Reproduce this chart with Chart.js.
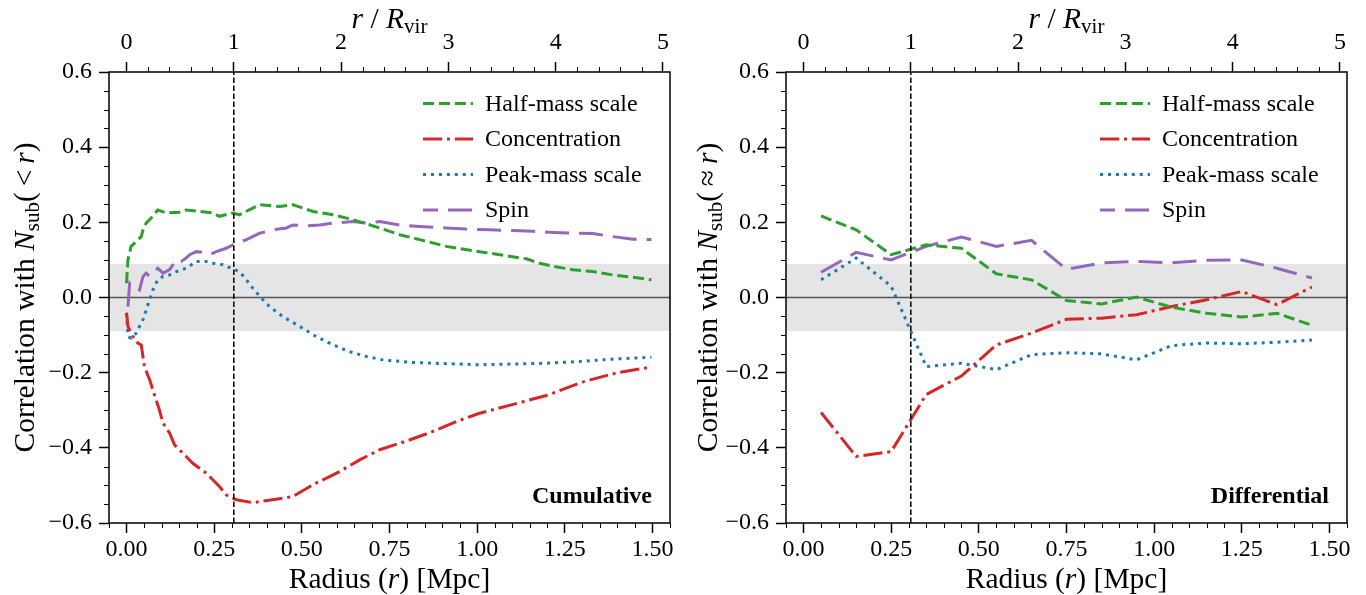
<!DOCTYPE html>
<html><head><meta charset="utf-8">
<script src="https://cdn.jsdelivr.net/npm/chart.js@4.4.1/dist/chart.umd.min.js"></script>
<style>
html,body{margin:0;padding:0;background:#fff;}
#wrap{position:relative;width:1366px;height:595px;overflow:hidden;background:#fff;}
canvas{position:absolute;top:0;}
</style></head><body>
<div id="wrap">
<canvas id="c1" width="683" height="595" style="left:0px"></canvas>
<canvas id="c2" width="683" height="595" style="left:683px"></canvas>
</div>
<script>
// ---------------- data ----------------
const RVIR = 0.306;           // Mpc (r / R_vir = 1)
const X_MIN = -0.05, X_MAX = 1.55;
const Y_MIN = -0.6, Y_MAX = 0.6;
const BAND = 0.089;
const X_TICKS = [0, 0.25, 0.5, 0.75, 1.0, 1.25, 1.5];
const X2_TICKS = [0, 1, 2, 3, 4, 5];
const Y_TICKS = [-0.6, -0.4, -0.2, 0, 0.2, 0.4, 0.6];
const LABELS = ['Half-mass scale', 'Concentration', 'Peak-mass scale', 'Spin'];

// Cumulative panel
const CUM_HALF_R = [0.0,0.004,0.013,0.028,0.042,0.047,0.056,0.075,0.089,0.113,0.151,0.170,0.208,0.246,0.265,0.303,0.322,0.360,0.380,0.437,0.474,0.532,0.589,0.646,0.722,0.779,0.836,0.912,1.007,1.083,1.140,1.178,1.216,1.273,1.330,1.387,1.445,1.497];
const CUM_HALF   = [0.038,0.10,0.136,0.149,0.162,0.18,0.198,0.216,0.233,0.225,0.227,0.233,0.229,0.225,0.216,0.225,0.22,0.238,0.247,0.242,0.247,0.229,0.22,0.207,0.185,0.167,0.154,0.136,0.122,0.111,0.103,0.091,0.083,0.074,0.069,0.06,0.054,0.047];

const CUM_CONC_R = [0.0,0.004,0.018,0.032,0.042,0.051,0.066,0.080,0.094,0.104,0.123,0.137,0.170,0.189,0.227,0.265,0.284,0.313,0.360,0.417,0.474,0.532,0.608,0.665,0.722,0.798,0.864,0.941,1.0,1.1,1.2,1.3,1.4,1.497];
const CUM_CONC   = [-0.04,-0.077,-0.104,-0.121,-0.126,-0.184,-0.219,-0.26,-0.30,-0.334,-0.361,-0.392,-0.423,-0.441,-0.467,-0.503,-0.525,-0.538,-0.546,-0.538,-0.530,-0.498,-0.463,-0.432,-0.405,-0.382,-0.36,-0.33,-0.31,-0.285,-0.26,-0.225,-0.2,-0.185];

const CUM_PEAK_R = [0.0,0.004,0.013,0.028,0.037,0.047,0.056,0.066,0.075,0.089,0.104,0.123,0.142,0.170,0.199,0.227,0.246,0.275,0.303,0.322,0.342,0.360,0.380,0.408,0.446,0.494,0.541,0.589,0.636,0.684,0.731,0.779,0.817,0.912,1.007,1.102,1.197,1.292,1.387,1.497];
const CUM_PEAK   = [-0.042,-0.104,-0.108,-0.095,-0.077,-0.059,-0.033,-0.006,0.02,0.047,0.056,0.06,0.069,0.078,0.096,0.096,0.091,0.087,0.076,0.069,0.047,0.025,0.003,-0.024,-0.051,-0.077,-0.104,-0.126,-0.144,-0.157,-0.166,-0.170,-0.173,-0.176,-0.179,-0.177,-0.175,-0.170,-0.164,-0.159];

const CUM_SPIN_R = [0.004,0.009,0.018,0.037,0.047,0.056,0.066,0.089,0.104,0.123,0.142,0.156,0.170,0.180,0.199,0.218,0.237,0.256,0.284,0.303,0.342,0.380,0.417,0.456,0.474,0.513,0.551,0.589,0.646,0.684,0.722,0.779,0.836,0.912,0.969,1.036,1.102,1.159,1.216,1.273,1.330,1.387,1.445,1.497];
const CUM_SPIN   = [-0.024,0.038,0.029,0.02,0.056,0.065,0.056,0.078,0.065,0.074,0.10,0.096,0.105,0.114,0.122,0.12,0.114,0.122,0.131,0.14,0.154,0.171,0.18,0.185,0.193,0.191,0.193,0.198,0.202,0.198,0.202,0.193,0.189,0.185,0.182,0.18,0.178,0.176,0.173,0.171,0.17,0.162,0.155,0.154];

// Differential panel
const DIFF_R    = [0.05,0.15,0.25,0.35,0.45,0.55,0.65,0.75,0.85,0.95,1.05,1.15,1.25,1.35,1.45];
const DIFF_HALF = [0.217,0.180,0.114,0.140,0.131,0.063,0.047,-0.008,-0.017,0.001,-0.026,-0.042,-0.052,-0.042,-0.074];
const DIFF_CONC = [-0.306,-0.423,-0.410,-0.258,-0.209,-0.126,-0.095,-0.058,-0.055,-0.046,-0.024,-0.006,0.016,-0.019,0.028];
const DIFF_PEAK = [0.047,0.105,0.030,-0.184,-0.175,-0.192,-0.152,-0.147,-0.150,-0.166,-0.128,-0.121,-0.123,-0.119,-0.113];
const DIFF_SPIN = [0.067,0.120,0.100,0.136,0.161,0.136,0.152,0.075,0.092,0.096,0.092,0.099,0.100,0.078,0.052];

// ---------------- styles ----------------
const FONT = '"Liberation Serif", "Times New Roman", Times, serif';
const STYLES = [
  {color:'#2ca02c', dash:[11.1,4.8]},
  {color:'#d62728', dash:[19.2,4.8,3,4.8]},
  {color:'#1f77b4', dash:[3,4.95]},
  {color:'#9467bd', dash:[24,10]}
];
Chart.defaults.font.family = FONT;
Chart.defaults.color = '#000';

function pts(xs, ys){ return xs.map((x,i)=>({x:x, y:ys[i]})); }

function fmtY(v){ if (Math.abs(v) < 1e-9) return '0.0'; return (v<0?'\u2212':'') + Math.abs(v).toFixed(1); }

function drawRich(ctx, segs, x, y, rot){
  ctx.save();
  ctx.translate(x, y);
  if (rot) ctx.rotate(rot);
  let w = 0;
  for (const s of segs){ ctx.font = s.font; w += ctx.measureText(s.t).width; }
  let cx = -w/2;
  ctx.fillStyle = '#000'; ctx.textBaseline = 'alphabetic'; ctx.textAlign = 'left';
  for (const s of segs){ ctx.font = s.font; ctx.fillText(s.t, cx, s.dy||0); cx += ctx.measureText(s.t).width; }
  ctx.restore();
}

const F28 = `29.5px ${FONT}`, I28 = `italic 29.5px ${FONT}`, S20 = `21px ${FONT}`;

const decorPlugin = {
  id: 'decor',
  afterDraw(chart, args, opts){
    const ctx = chart.ctx, a = chart.chartArea;
    const sx = chart.scales.x, sx2 = chart.scales.x2, sy = chart.scales.y;
    ctx.save();
    // minor ticks
    ctx.strokeStyle = '#000'; ctx.lineWidth = 1;
    ctx.beginPath();
    for (let k = -1; k <= 31; k++){
      const v = k*0.05; if (v < X_MIN-1e-9 || v > X_MAX+1e-9) continue;
      if (Math.abs(v/0.25 - Math.round(v/0.25)) < 1e-6) continue;
      const p = Math.round(sx.getPixelForValue(v)) + 0.5;
      ctx.moveTo(p, a.bottom); ctx.lineTo(p, a.bottom + 5);
    }
    for (let k = -1; k <= 26; k++){
      const v = k*0.2; if (v < sx2.min-1e-9 || v > sx2.max+1e-9) continue;
      if (Math.abs(v - Math.round(v)) < 1e-6) continue;
      const p = Math.round(sx2.getPixelForValue(v)) + 0.5;
      ctx.moveTo(p, a.top); ctx.lineTo(p, a.top - 5);
    }
    for (let k = -12; k <= 12; k++){
      const v = k*0.05;
      if (Math.abs(v/0.2 - Math.round(v/0.2)) < 1e-6) continue;
      const p = Math.round(sy.getPixelForValue(v)) + 0.5;
      ctx.moveTo(a.left, p); ctx.lineTo(a.left - 5, p);
    }
    ctx.stroke();
    // frame
    ctx.lineWidth = 1.5; ctx.strokeStyle = '#000';
    ctx.strokeRect(a.left, a.top, a.right - a.left, a.bottom - a.top);
    // legend
    const lx0 = a.right - 247, lx1 = a.right - 197, tx = a.right - 185;
    const rows = [a.top + 31.5, a.top + 67, a.top + 102.5, a.top + 138];
    ctx.font = `24px ${FONT}`; ctx.textBaseline = 'middle'; ctx.textAlign = 'left';
    for (let i = 0; i < 4; i++){
      ctx.save();
      ctx.strokeStyle = STYLES[i].color; ctx.lineWidth = 3; ctx.lineCap = 'butt';
      ctx.setLineDash(STYLES[i].dash);
      if (i === 3) ctx.lineDashOffset = 9;
      ctx.beginPath(); ctx.moveTo(lx0, rows[i]); ctx.lineTo(lx1, rows[i]); ctx.stroke();
      ctx.restore();
      ctx.fillStyle = '#000';
      ctx.fillText(LABELS[i], tx, rows[i] + 1);
    }
    // panel tag
    ctx.font = `bold 24px ${FONT}`; ctx.textAlign = 'right'; ctx.textBaseline = 'alphabetic';
    ctx.fillText(opts.tag, a.right - 18, a.bottom - 20);
    ctx.restore();
    // axis titles
    const cxm = (a.left + a.right)/2, cym = (a.top + a.bottom)/2;
    drawRich(ctx, [{t:'Radius (', font:F28},{t:'r', font:I28},{t:') [Mpc]', font:F28}], cxm, 588);
    drawRich(ctx, [{t:'r', font:I28},{t:' / ', font:F28},{t:'R', font:I28},{t:'vir', font:S20, dy:5}], cxm, 28);
    drawRich(ctx, [{t:'Correlation with ', font:F28},{t:'N', font:I28},{t:'sub', font:S20, dy:5},
                   {t:'(\u2009'+opts.rel+'\u2009', font:F28},{t:'r', font:I28},{t:')', font:F28}], opts.ytx, cym, -Math.PI/2);
  }
};

function makeChart(id, series, yWidth, padRight, tag, rel, ytx){
  const datasets = [];
  series.forEach((s, i) => {
    datasets.push({label: LABELS[i], data: s, borderColor: STYLES[i].color, borderDash: STYLES[i].dash,
      borderWidth: 3, borderCapStyle: 'butt', pointRadius: 0, tension: 0, fill: false, order: 1 + i});
  });
  datasets.push({label:'Rvir', data: [{x:RVIR,y:Y_MIN},{x:RVIR,y:Y_MAX}], borderColor:'#000', borderWidth:1.5,
    borderDash:[5.5,2.5], pointRadius:0, fill:false, order:0});
  datasets.push({label:'zero', data: [{x:X_MIN,y:0},{x:X_MAX,y:0}], borderColor:'#555', borderWidth:1.5,
    pointRadius:0, fill:false, order:9});
  datasets.push({label:'band', data: [{x:X_MIN,y:BAND},{x:X_MAX,y:BAND}], borderWidth:0, borderColor:'rgba(0,0,0,0)',
    backgroundColor:'#e5e5e5', pointRadius:0, fill:{value:-BAND}, order:10});

  return new Chart(document.getElementById(id), {
    type: 'line',
    data: { datasets },
    plugins: [decorPlugin],
    options: {
      responsive: false, animation: false, devicePixelRatio: 1,
      layout: { padding: { left: 0, right: padRight, top: 0, bottom: 0 } },
      plugins: { legend: {display:false}, tooltip: {enabled:false}, decor: {tag, rel, ytx} },
      scales: {
        x: { type:'linear', position:'bottom', min:X_MIN, max:X_MAX,
             afterBuildTicks: s => { s.ticks = X_TICKS.map(v => ({value:v})); },
             afterFit: s => { s.height = 72; },
             ticks: { callback: v => v.toFixed(2), font:{size:24, lineHeight:1}, padding:5, maxRotation:0, autoSkip:false },
             grid: { drawOnChartArea:false, drawTicks:true, tickLength:10, tickWidth:1.5, tickColor:'#000' },
             border: { display:false }, title: { display:false } },
        x2: { type:'linear', axis:'x', position:'top', min:X_MIN/RVIR, max:X_MAX/RVIR,
             afterBuildTicks: s => { s.ticks = X2_TICKS.map(v => ({value:v})); },
             afterFit: s => { s.height = 72; },
             ticks: { callback: v => String(Math.round(v)), font:{size:24, lineHeight:1}, padding:7, maxRotation:0, autoSkip:false },
             grid: { drawOnChartArea:false, drawTicks:true, tickLength:10, tickWidth:1.5, tickColor:'#000' },
             border: { display:false } },
        y: { type:'linear', position:'left', min:Y_MIN, max:Y_MAX,
             afterBuildTicks: s => { s.ticks = Y_TICKS.map(v => ({value:v})); },
             afterFit: s => { s.width = yWidth; },
             ticks: { callback: v => fmtY(v), font:{size:24, lineHeight:1}, padding:7, autoSkip:false },
             grid: { drawOnChartArea:false, drawTicks:true, tickLength:10, tickWidth:1.5, tickColor:'#000' },
             border: { display:false } }
      }
    }
  });
}

makeChart('c1', [pts(CUM_HALF_R, CUM_HALF), pts(CUM_CONC_R, CUM_CONC), pts(CUM_PEAK_R, CUM_PEAK), pts(CUM_SPIN_R, CUM_SPIN)],
  109, 13, 'Cumulative', '<', 34);
makeChart('c2', [pts(DIFF_R, DIFF_HALF), pts(DIFF_R, DIFF_CONC), pts(DIFF_R, DIFF_PEAK), pts(DIFF_R, DIFF_SPIN)],
  103, 19, 'Differential', '\u2248', 34);
</script>
</body></html>
